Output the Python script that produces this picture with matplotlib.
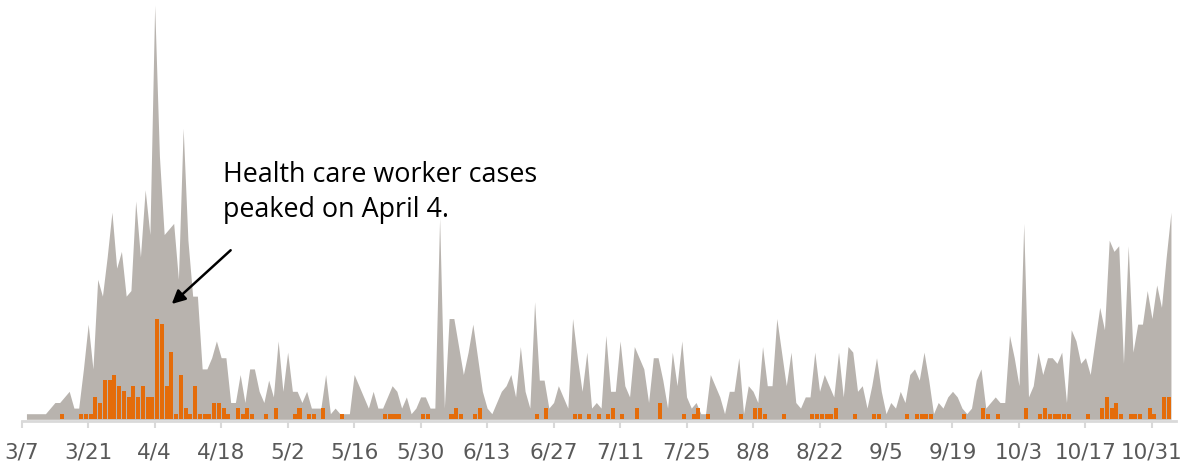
import numpy as np
import matplotlib.pyplot as plt

# all reported cases per day, first value = 3/8
all_cases = [
    1, 1, 1, 1, 1, 2, 3, 3, 4, 5,
    2, 2, 9, 17, 9, 25, 22, 29, 37, 27,
    30, 22, 23, 39, 29, 41, 33, 74, 47, 33,
    34, 35, 25, 52, 32, 22, 22, 9, 9, 11,
    14, 11, 11, 3, 3, 8, 3, 9, 9, 5,
    3, 7, 4, 14, 5, 12, 5, 5, 3, 5,
    2, 2, 2, 8, 1, 2, 1, 1, 1, 8,
    6, 4, 2, 5, 2, 2, 4, 6, 5, 2,
    4, 1, 2, 4, 4, 2, 2, 36, 2, 18,
    18, 13, 8, 12, 17, 11, 5, 2, 1, 3,
    5, 6, 8, 4, 13, 5, 2, 21, 7, 7,
    2, 3, 6, 4, 2, 18, 11, 5, 12, 2,
    3, 2, 15, 5, 5, 14, 6, 4, 13, 11,
    9, 3, 11, 11, 7, 2, 12, 6, 14, 4,
    2, 3, 1, 1, 8, 6, 4, 1, 5, 5,
    11, 1, 6, 5, 3, 13, 6, 6, 18, 12,
    6, 12, 3, 2, 4, 4, 12, 5, 8, 6,
    4, 12, 4, 13, 12, 5, 6, 2, 6, 11,
    5, 1, 3, 2, 5, 3, 8, 9, 7, 12,
    7, 1, 3, 2, 4, 5, 4, 2, 1, 2,
    7, 9, 2, 3, 4, 3, 3, 15, 11, 6,
    35, 4, 6, 12, 8, 11, 11, 10, 12, 3,
    16, 14, 10, 11, 8, 14, 20, 16, 32, 30,
    31, 10, 31, 12, 17, 17, 23, 18, 24, 20,
    29, 37,
]

# health care worker cases: day (0 = 3/7) and count
hcw_day = [
    8, 12, 13, 14, 15, 16, 17, 18, 19, 20,
    21, 22, 23, 24, 25, 26, 27, 28, 29, 30,
    31, 32, 33, 34, 35, 36, 37, 38, 39, 40,
    41, 42, 43, 45, 46, 47, 48, 51, 53, 57,
    58, 60, 61, 63, 67, 76, 77, 78, 79, 84,
    85, 90, 91, 92, 95, 96, 108, 110, 116, 117,
    119, 121, 123, 124, 126, 129, 134, 139, 141, 142,
    144, 151, 154, 155, 156, 160, 166, 167, 168, 169,
    170, 171, 175, 179, 180, 186, 188, 189, 190, 191,
    198, 202, 203, 205, 211, 214, 215, 216, 217, 218,
    219, 220, 224, 227, 228, 229, 230, 231, 233, 234,
    235, 237, 238, 240, 241,
]
hcw_cases = [
    1, 1, 1, 1, 4, 3, 7, 7, 8, 6,
    5, 4, 6, 4, 6, 4, 4, 18, 17, 6,
    12, 1, 8, 2, 1, 6, 1, 1, 1, 3,
    3, 2, 1, 2, 1, 2, 1, 1, 2, 1,
    2, 1, 1, 2, 1, 1, 1, 1, 1, 1,
    1, 1, 2, 1, 1, 2, 1, 2, 1, 1,
    1, 1, 1, 2, 1, 2, 3, 1, 1, 2,
    1, 1, 2, 2, 1, 1, 1, 1, 1, 1,
    1, 2, 1, 1, 1, 1, 1, 1, 1, 1,
    1, 2, 1, 1, 2, 1, 2, 1, 1, 1,
    1, 1, 1, 2, 4, 2, 3, 1, 1, 1,
    1, 2, 1, 4, 4,
]

tick_labels = ["3/7", "3/21", "4/4", "4/18", "5/2", "5/16", "5/30", "6/13", "6/27",
               "7/11", "7/25", "8/8", "8/22", "9/5", "9/19", "10/3", "10/17", "10/31"]

days = np.arange(1, len(all_cases) + 1)

fig = plt.figure(figsize=(11.83, 4.70), dpi=100)
ax = fig.add_axes([21.7 / 1183, 50.7 / 470, 1154 / 1183, 419.3 / 470])

ax.fill_between(days, 0, all_cases, color="#b8b3ae", lw=0, zorder=1)
ax.bar(np.array(hcw_day) + 0.5, hcw_cases, width=0.85, color="#e46c0a", lw=0, zorder=2)

ax.set_xlim(0, 243)
ax.set_ylim(0, 74.9)
ax.set_xticks(np.arange(len(tick_labels)) * 14)
ax.set_xticklabels(tick_labels)
ax.tick_params(axis="x", length=5, width=1.5, color="#d9d9d9", pad=10.5,
               labelsize=15.5, labelcolor="#595959")
for lbl in ax.get_xticklabels():
    lbl.set_fontfamily("Lato")
ax.set_yticks([])
for s in ["top", "left", "right"]:
    ax.spines[s].set_visible(False)
ax.spines["bottom"].set_color("#d9d9d9")
ax.spines["bottom"].set_linewidth(2)
ax.spines["bottom"].set_position(("outward", 1))
ax.patch.set_alpha(0)

ax.text(42.3, 36.2, "Health care worker cases\npeaked on April 4.", fontfamily="Open Sans",
        fontsize=19.4, va="baseline", ha="left", linespacing=1.3, color="black")
ax.annotate("", xy=(31.6, 20.6), xytext=(44.0, 30.2),
            arrowprops=dict(arrowstyle="-|>", color="black", lw=1.8, mutation_scale=20,
                            shrinkA=0, shrinkB=0))

fig.savefig("out.png", dpi=100)
